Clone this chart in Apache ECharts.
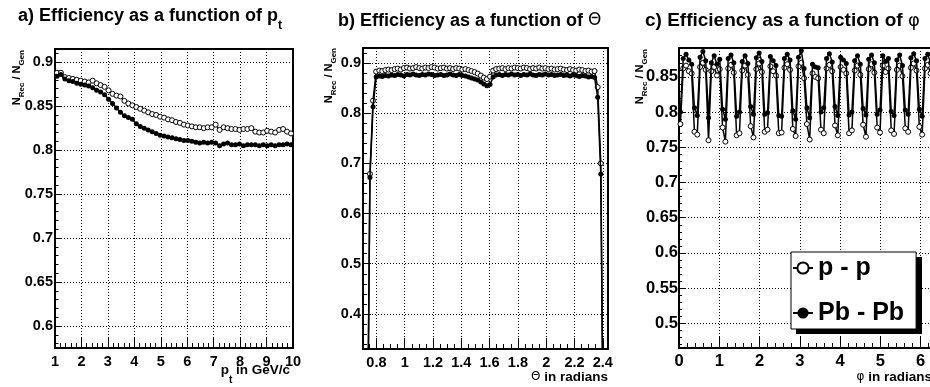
<!DOCTYPE html>
<html>
<head>
<meta charset="utf-8">
<script src="https://cdn.jsdelivr.net/npm/echarts@6/dist/echarts.min.js"></script>
<style>
  html, body { margin: 0; padding: 0; background: #fff; }
  #chart { width: 930px; height: 387px; }
</style>
</head>
<body>
<div id="chart"></div>
<script>
// ---- data: bin centres and efficiencies ----
const ptBins = [
  1.075, 1.225, 1.375, 1.525, 1.675, 1.825, 1.975, 2.125, 2.275, 2.425,
  2.575, 2.725, 2.875, 3.025, 3.175, 3.325, 3.475, 3.625, 3.775, 3.925,
  4.075, 4.225, 4.375, 4.525, 4.675, 4.825, 4.975, 5.125, 5.275, 5.425,
  5.575, 5.725, 5.875, 6.025, 6.175, 6.325, 6.475, 6.625, 6.775, 6.925,
  7.075, 7.225, 7.375, 7.525, 7.675, 7.825, 7.975, 8.125, 8.275, 8.425,
  8.575, 8.725, 8.875, 9.025, 9.175, 9.325, 9.475, 9.625, 9.775, 9.925
];
const ptEffPP = [
  0.888, 0.888, 0.883, 0.882, 0.881, 0.880, 0.879, 0.878, 0.877, 0.879,
  0.876, 0.874, 0.872, 0.868, 0.864, 0.862, 0.861, 0.856, 0.853, 0.851,
  0.849, 0.847, 0.845, 0.843, 0.841, 0.840, 0.838, 0.837, 0.835, 0.834,
  0.832, 0.831, 0.829, 0.828, 0.827, 0.826, 0.826, 0.825, 0.826, 0.826,
  0.829, 0.823, 0.826, 0.825, 0.824, 0.824, 0.823, 0.824, 0.824, 0.825,
  0.821, 0.820, 0.820, 0.822, 0.821, 0.820, 0.823, 0.824, 0.821, 0.819
];
const ptEffPbPb = [
  0.884, 0.886, 0.881, 0.879, 0.878, 0.876, 0.875, 0.874, 0.873, 0.871,
  0.868, 0.866, 0.863, 0.858, 0.853, 0.848, 0.843, 0.839, 0.837, 0.835,
  0.830, 0.827, 0.825, 0.823, 0.821, 0.819, 0.817, 0.816, 0.815, 0.814,
  0.813, 0.812, 0.811, 0.811, 0.810, 0.809, 0.808, 0.809, 0.808, 0.809,
  0.808, 0.805, 0.807, 0.808, 0.806, 0.806, 0.807, 0.805, 0.806, 0.806,
  0.806, 0.805, 0.806, 0.805, 0.806, 0.805, 0.806, 0.806, 0.807, 0.806
];

const thetaBins = [
  0.711, 0.733, 0.754, 0.776, 0.798, 0.820, 0.841, 0.863, 0.885, 0.907,
  0.929, 0.950, 0.972, 0.994, 1.016, 1.037, 1.059, 1.081, 1.103, 1.124,
  1.146, 1.168, 1.190, 1.211, 1.233, 1.255, 1.277, 1.298, 1.320, 1.342,
  1.364, 1.385, 1.407, 1.429, 1.451, 1.472, 1.494, 1.516, 1.538, 1.559,
  1.581, 1.603, 1.625, 1.646, 1.668, 1.690, 1.712, 1.733, 1.755, 1.777,
  1.799, 1.820, 1.842, 1.864, 1.886, 1.907, 1.929, 1.951, 1.973, 1.994,
  2.016, 2.038, 2.060, 2.081, 2.103, 2.125, 2.147, 2.168, 2.190, 2.212,
  2.234, 2.255, 2.277, 2.299, 2.321, 2.342, 2.364, 2.386, 2.408, 2.430
];
const thetaEffPP = [
  0, 0, 0.679, 0.825, 0.883, 0.885, 0.884, 0.886, 0.887, 0.886,
  0.888, 0.889, 0.887, 0.890, 0.891, 0.889, 0.890, 0.892, 0.890, 0.889,
  0.891, 0.890, 0.892, 0.891, 0.889, 0.890, 0.891, 0.889, 0.890, 0.888,
  0.890, 0.889, 0.887, 0.888, 0.886, 0.884, 0.882, 0.879, 0.875, 0.871,
  0.868, 0.873, 0.885, 0.888, 0.889, 0.890, 0.888, 0.890, 0.889, 0.891,
  0.890, 0.889, 0.891, 0.890, 0.888, 0.890, 0.889, 0.891, 0.889, 0.890,
  0.888, 0.889, 0.887, 0.888, 0.889, 0.887, 0.886, 0.888, 0.886, 0.885,
  0.887, 0.886, 0.884, 0.885, 0.883, 0.884, 0.852, 0.700, 0, 0
];
const thetaEffPbPb = [
  0, 0, 0.672, 0.813, 0.872, 0.874, 0.873, 0.875, 0.874, 0.876,
  0.875, 0.877, 0.876, 0.874, 0.877, 0.876, 0.878, 0.876, 0.875, 0.877,
  0.876, 0.878, 0.877, 0.875, 0.876, 0.877, 0.875, 0.876, 0.878, 0.876,
  0.875, 0.877, 0.875, 0.874, 0.872, 0.870, 0.868, 0.866, 0.862, 0.858,
  0.855, 0.857, 0.872, 0.876, 0.877, 0.875, 0.877, 0.876, 0.878, 0.876,
  0.877, 0.875, 0.877, 0.876, 0.878, 0.876, 0.875, 0.877, 0.876, 0.878,
  0.876, 0.877, 0.875, 0.876, 0.877, 0.875, 0.876, 0.874, 0.876, 0.875,
  0.873, 0.875, 0.874, 0.872, 0.873, 0.871, 0.832, 0.679, 0, 0
];

const phiBins = [
  0.035, 0.105, 0.175, 0.244, 0.314, 0.384, 0.454, 0.524, 0.593, 0.663,
  0.733, 0.803, 0.873, 0.942, 1.012, 1.082, 1.152, 1.222, 1.292, 1.361,
  1.431, 1.501, 1.571, 1.641, 1.710, 1.780, 1.850, 1.920, 1.990, 2.059,
  2.129, 2.199, 2.269, 2.339, 2.408, 2.478, 2.548, 2.618, 2.688, 2.758,
  2.827, 2.897, 2.967, 3.037, 3.107, 3.176, 3.246, 3.316, 3.386, 3.456,
  3.526, 3.595, 3.665, 3.735, 3.805, 3.875, 3.944, 4.014, 4.084, 4.154,
  4.224, 4.294, 4.363, 4.433, 4.503, 4.573, 4.643, 4.712, 4.782, 4.852,
  4.922, 4.992, 5.061, 5.131, 5.201, 5.271, 5.341, 5.411, 5.480, 5.550,
  5.620, 5.690, 5.760, 5.829, 5.899, 5.969, 6.039, 6.109, 6.178, 6.248
];
const phiEffPP = [
  0.783, 0.862, 0.866, 0.858, 0.855, 0.772, 0.768, 0.864, 0.870, 0.860,
  0.760, 0.858, 0.864, 0.852, 0.861, 0.778, 0.758, 0.862, 0.867, 0.856,
  0.767, 0.770, 0.859, 0.866, 0.853, 0.780, 0.764, 0.861, 0.869, 0.857,
  0.772, 0.775, 0.865, 0.858, 0.852, 0.770, 0.771, 0.863, 0.868, 0.860,
  0.776, 0.766, 0.865, 0.870, 0.848, 0.783, 0.761, 0.855, 0.850, 0.848,
  0.775, 0.770, 0.862, 0.867, 0.858, 0.781, 0.767, 0.864, 0.860, 0.855,
  0.770, 0.774, 0.859, 0.866, 0.853, 0.782, 0.765, 0.861, 0.868, 0.856,
  0.778, 0.771, 0.866, 0.857, 0.862, 0.774, 0.769, 0.860, 0.866, 0.851,
  0.777, 0.772, 0.863, 0.869, 0.859, 0.779, 0.768, 0.862, 0.867, 0.855
];
const phiEffPbPb = [
  0.800, 0.876, 0.882, 0.874, 0.868, 0.806, 0.795, 0.878, 0.886, 0.873,
  0.792, 0.870, 0.880, 0.868, 0.875, 0.804, 0.790, 0.876, 0.881, 0.870,
  0.794, 0.800, 0.872, 0.880, 0.869, 0.808, 0.797, 0.877, 0.884, 0.872,
  0.797, 0.799, 0.879, 0.873, 0.866, 0.795, 0.794, 0.876, 0.882, 0.874,
  0.802, 0.790, 0.878, 0.887, 0.862, 0.806, 0.792, 0.868, 0.864, 0.863,
  0.800, 0.806, 0.876, 0.883, 0.871, 0.808, 0.795, 0.878, 0.874, 0.869,
  0.796, 0.800, 0.873, 0.880, 0.868, 0.805, 0.796, 0.875, 0.881, 0.870,
  0.797, 0.803, 0.880, 0.872, 0.876, 0.801, 0.795, 0.874, 0.881, 0.866,
  0.803, 0.797, 0.877, 0.883, 0.873, 0.804, 0.794, 0.876, 0.882, 0.870
];

const seriesNames = ['p - p', 'Pb - Pb'];

// ---- styling helpers ----
const FONT = '"Liberation Sans", Arial, Helvetica, sans-serif';
const SYM = '"DejaVu Sans", sans-serif';

// a major axis (labels, long ticks, dotted grid) plus a minor-tick axis on top of it
function axisPair(dim, gi, min, max, step, minorStep, len, minorLen, fs, margin, showMin, showMax) {
  const pos = dim === 'x' ? 'bottom' : 'left';
  return [
    {
      type: 'value', gridIndex: gi, position: pos, min: min, max: max,
      minInterval: step, maxInterval: step, splitNumber: 5,
      axisLine: { show: false },
      axisTick: { show: true, inside: true, length: len, lineStyle: { color: '#000', width: 1 } },
      axisLabel: {
        show: true, margin: margin, color: '#000', fontFamily: FONT, fontWeight: 'bold',
        fontSize: fs, showMinLabel: showMin, showMaxLabel: showMax
      },
      splitLine: { show: true, lineStyle: { color: '#000', width: 1, type: [1, 2] } }
    },
    {
      type: 'value', gridIndex: gi, position: pos, min: min, max: max,
      minInterval: minorStep, maxInterval: minorStep, splitNumber: 5,
      axisLine: { show: false },
      axisTick: { show: true, inside: true, length: minorLen, lineStyle: { color: '#000', width: 1 } },
      axisLabel: { show: false },
      splitLine: { show: false }
    }
  ];
}

function series(name, panel, xs, ys, open) {
  return {
    name: name, type: 'line', xAxisIndex: panel * 2, yAxisIndex: panel * 2,
    data: xs.map((x, i) => [x, ys[i]]),
    symbol: 'circle', symbolSize: 5, showAllSymbol: true,
    itemStyle: open ? { color: '#fff', borderColor: '#000', borderWidth: 1 } : { color: '#000' },
    lineStyle: { color: '#000', width: 1.5 },
    emphasis: { disabled: true },
    clip: true, silent: true, z: open ? 3 : 4
  };
}

function richText(mainSize, subSize, subPad, greekSize) {
  return {
    m: { fontFamily: FONT, fontWeight: 'bold', fontSize: mainSize, fill: '#000' },
    s: { fontFamily: FONT, fontWeight: 'bold', fontSize: subSize, fill: '#000', padding: [subPad, 0, 0, 0] },
    g: { fontFamily: SYM, fontWeight: 'normal', fontSize: greekSize || mainSize, fill: '#000' }
  };
}

function label(x, y, text, align, rich, rotation) {
  return {
    type: 'text', x: x, y: y, rotation: rotation || 0, silent: true,
    style: { text: text, align: align, verticalAlign: 'middle', rich: rich }
  };
}

const gridBox = { show: true, borderColor: '#000', borderWidth: 2, backgroundColor: 'transparent', outerBoundsMode: 'none', containLabel: false };

const option = {
  backgroundColor: '#fff',
  animation: false,
  grid: [
    Object.assign({ left: 55, top: 49, width: 238, height: 299 }, gridBox),
    Object.assign({ left: 363, top: 48, width: 245, height: 301 }, gridBox),
    Object.assign({ left: 679, top: 48, width: 253, height: 300 }, gridBox)
  ],
  xAxis: [].concat(
    axisPair('x', 0, 1, 10, 1, 0.2, 11, 5, 14.5, 6, true, true),
    axisPair('x', 1, 0.705, 2.437, 0.2, 0.05, 11, 5, 14.5, 6, false, false),
    axisPair('x', 2, 0, 2 * Math.PI, 1, 0.2, 11, 5, 16.5, 5, true, false)
  ),
  yAxis: [].concat(
    axisPair('y', 0, 0.575, 0.915, 0.05, 0.01, 7, 3.5, 14.5, 2, false, false),
    axisPair('y', 1, 0.33, 0.93, 0.1, 0.02, 8, 4, 14.5, 2, false, false),
    axisPair('y', 2, 0.465, 0.891, 0.05, 0.01, 6, 3, 16.5, 1, false, false)
  ),
  legend: {
    orient: 'vertical', left: 791, top: 252, padding: [1, 12, 1, 1],
    itemGap: 15, itemWidth: 20, itemHeight: 14, z: 6,
    backgroundColor: '#fff', borderColor: '#000', borderWidth: 1, borderRadius: 0,
    selectedMode: false,
    textStyle: { fontFamily: FONT, fontWeight: 'bold', fontSize: 25, color: '#000', lineHeight: 30 },
    data: seriesNames
  },
  graphic: [
    // drop shadow behind the legend box
    { type: 'rect', z: 5, silent: true, shape: { x: 796, y: 257, width: 126, height: 77 }, style: { fill: '#000' } },
    label(18, 16, '{m|a) Efficiency as a function of p}{s|t}', 'left', richText(18, 12, 20)),
    label(338, 21, '{m|b) Efficiency as a function of }{g|Θ}', 'left', richText(18, 12, 20, 17)),
    label(645, 21, '{m|c) Efficiency as a function of }{g|φ}', 'left', richText(19, 12, 20, 18)),
    label(17, 50, '{m|N}{s|Rec}{m| / N}{s|Gen}', 'right', richText(11, 8, 10), Math.PI / 2),
    label(329, 48, '{m|N}{s|Rec}{m| / N}{s|Gen}', 'right', richText(11, 8, 10), Math.PI / 2),
    label(640, 49, '{m|N}{s|Rec}{m| / N}{s|Gen}', 'right', richText(11, 8, 10), Math.PI / 2),
    label(290, 370, '{m|p}{s|t}{m| in GeV/c}', 'right', richText(13.5, 10, 20)),
    label(608, 377, '{g|Θ}{m| in radians}', 'right', richText(13.5, 10, 20, 12)),
    label(932, 377, '{g|φ}{m| in radians}', 'right', richText(13.5, 10, 20, 12))
  ],
  series: [
    series(seriesNames[0], 0, ptBins, ptEffPP, true),
    series(seriesNames[1], 0, ptBins, ptEffPbPb, false),
    series(seriesNames[0], 1, thetaBins, thetaEffPP, true),
    series(seriesNames[1], 1, thetaBins, thetaEffPbPb, false),
    series(seriesNames[0], 2, phiBins, phiEffPP, true),
    series(seriesNames[1], 2, phiBins, phiEffPbPb, false)
  ]
};

const chart = echarts.init(document.getElementById('chart'), null, { renderer: 'canvas' });
chart.setOption(option);
window.addEventListener('resize', () => chart.resize());
</script>
</body>
</html>
